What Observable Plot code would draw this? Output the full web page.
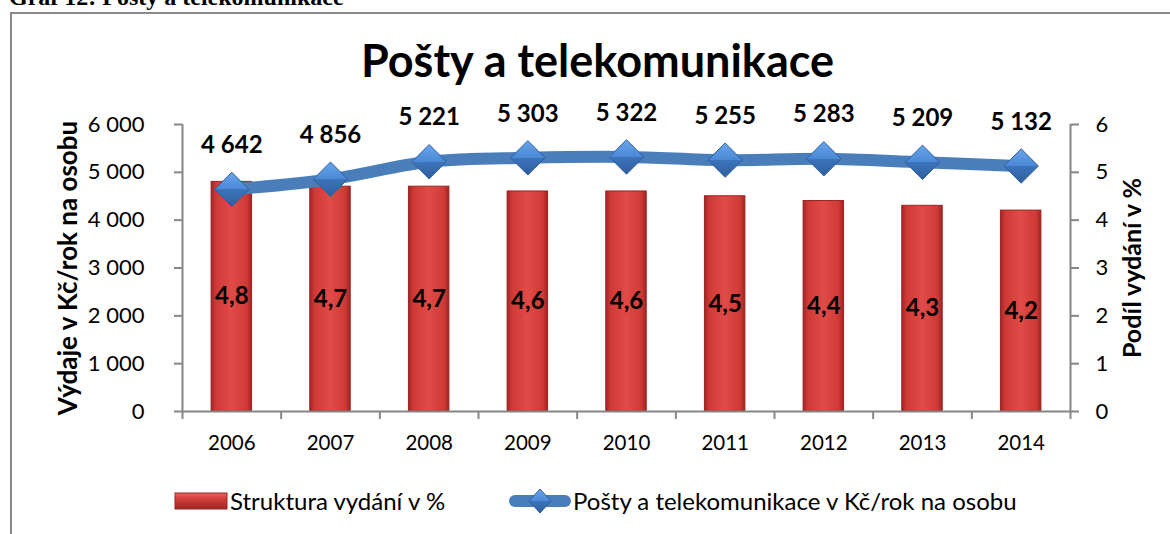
<!DOCTYPE html>
<html>
<head>
<meta charset="utf-8">
<script src="https://cdn.jsdelivr.net/npm/d3@7"></script>
<script src="https://cdn.jsdelivr.net/npm/@observablehq/plot@0.6"></script>
<style>
  html, body { margin: 0; padding: 0; background: #fff; }
  #wrap { position: relative; width: 1170px; height: 534px; overflow: hidden; font-family: Lato, "Open Sans", sans-serif; }
  #border { position: absolute; left: 10px; top: 12px; width: 1300px; height: 700px; border-left: 2px solid #8a8a8a; border-top: 2px solid #8a8a8a; }
  #caption { position: absolute; left: 9px; top: -15px; font-family: "Liberation Serif", serif; font-weight: bold; font-size: 24px; line-height: 24px; white-space: nowrap; }
  #chart { position: absolute; left: 0; top: 0; }
  .leg { position: absolute; display: flex; align-items: center; font-size: 24px; white-space: nowrap; color: #000; }
  .leg svg { display: block; }
</style>
</head>
<body>
<div id="wrap">
  <div id="border"></div>
  <div id="chart"></div>
  <div id="caption"></div>
  <div class="leg" id="leg1" style="left:174px; top:486px;"></div>
  <div class="leg" id="leg2" style="left:508px; top:486px;"></div>
</div>
<script>
// ---- data ----
const years = [2006, 2007, 2008, 2009, 2010, 2011, 2012, 2013, 2014];
const sharePct = [4.8, 4.7, 4.7, 4.6, 4.6, 4.5, 4.4, 4.3, 4.2];
const spendCzk = [4642, 4856, 5221, 5303, 5322, 5255, 5283, 5209, 5132];
const leftTicks = [0, 1000, 2000, 3000, 4000, 5000, 6000];
const leftTickLabels = ["0", "1 000", "2 000", "3 000", "4 000", "5 000", "6 000"];
const rightTicks = [0, 1, 2, 3, 4, 5, 6];
const rightTickLabels = ["0", "1", "2", "3", "4", "5", "6"];
const captionText = "Graf 12: Pošty a telekomunikace";
const titleText = "Pošty a telekomunikace";
const leftAxisTitle = "Výdaje v Kč/rok na osobu";
const rightAxisTitle = "Podíl vydání v %";
const barSeriesName = "Struktura vydání v %";
const lineSeriesName = "Pošty a telekomunikace v Kč/rok na osobu";

const data = years.map((year, i) => ({ year, share: sharePct[i], czk: spendCzk[i] }));
const locale = d3.formatLocale({ decimal: ",", thousands: " ", grouping: [3], currency: ["", " Kč"] });
const fmtInt = locale.format(",d");
const fmtPct = locale.format(".1f");
const ratio = 1000; // right-axis unit (percent) -> left-axis unit (Kč)
const boundaries = years.map(y => y - 0.5).concat([years[years.length - 1] + 0.5]);

const font = "Lato, 'Open Sans', sans-serif";

function defs() {
  const ns = "http://www.w3.org/2000/svg";
  const d = document.createElementNS(ns, "defs");
  d.innerHTML = `
    <linearGradient id="barGrad" x1="0" y1="0" x2="1" y2="0">
      <stop offset="0" stop-color="#9e2523"/>
      <stop offset="0.12" stop-color="#cf3a37"/>
      <stop offset="0.5" stop-color="#e04b47"/>
      <stop offset="0.88" stop-color="#cf3a37"/>
      <stop offset="1" stop-color="#9e2523"/>
    </linearGradient>
    <linearGradient id="diaGrad" x1="0" y1="0" x2="0" y2="1">
      <stop offset="0" stop-color="#6aa6ec"/>
      <stop offset="0.5" stop-color="#4a88d4"/>
      <stop offset="0.5" stop-color="#3c74bb"/>
      <stop offset="1" stop-color="#2f5f9e"/>
    </linearGradient>`;
  return d;
}

const chart = Plot.plot({
  width: 1170,
  height: 534,
  marginTop: 124,
  marginBottom: 123,
  marginLeft: 182,
  marginRight: 100,
  style: { fontFamily: font, fontSize: "21px", color: "#000", background: "transparent", overflow: "visible" },
  x: { type: "linear", domain: [years[0] - 0.5, years[years.length - 1] + 0.5], axis: null },
  y: { domain: [0, 6000], axis: null },
  marks: [
    defs,
    // bars (share in %), mapped to right axis units
    Plot.rectY(data, {
      x1: d => d.year - 0.205, x2: d => d.year + 0.205,
      y1: 0, y2: d => d.share * ratio,
      fill: "url(#barGrad)", stroke: "#9a2422", strokeWidth: 1
    }),
    // axes lines
    Plot.ruleY([0], { stroke: "#868686", strokeWidth: 2 }),
    Plot.ruleX([boundaries[0], boundaries[boundaries.length - 1]], { stroke: "#868686", strokeWidth: 2 }),
    Plot.axisY({ anchor: "left", ticks: leftTicks, tickSize: 8, tickPadding: 30, stroke: "#868686", strokeWidth: 2,
      tickFormat: d => leftTickLabels[leftTicks.indexOf(d)], fontSize: 22, label: null }),
    Plot.axisY({ anchor: "right", ticks: rightTicks.map(t => t * ratio), tickSize: 8, tickPadding: 17, stroke: "#868686", strokeWidth: 2,
      tickFormat: d => rightTickLabels[rightTicks.indexOf(d / ratio)], fontSize: 22, label: null }),
    Plot.axisX({ ticks: boundaries, tickSize: 8, tickFormat: () => "", stroke: "#868686", strokeWidth: 2, label: null }),
    Plot.axisX({ ticks: years, tickSize: 0, tickPadding: 24, tickFormat: d => String(d), fontSize: 20.5, label: null }),
    // line (Kč per person)
    Plot.line(data, { x: "year", y: "czk", stroke: "#4a7ebb", strokeWidth: 12, curve: "catmull-rom" }),
    Plot.dot(data, { x: "year", y: "czk", symbol: "diamond2", r: 15.5, fill: "url(#diaGrad)", stroke: "#2f5f9e", strokeWidth: 1 }),
    // data labels
    Plot.text(data, { x: "year", y: "czk", text: d => fmtInt(d.czk), dy: -44, fontWeight: "bold", fontSize: 24 }),
    Plot.text(data, { x: "year", y: d => d.share * ratio / 2, text: d => fmtPct(d.share), fontWeight: "bold", fontSize: 24 }),
    // axis titles
    Plot.text([leftAxisTitle], { frameAnchor: "left", dx: -114, rotate: -90, textAnchor: "middle", lineAnchor: "middle", fontWeight: "bold", fontSize: 26 }),
    Plot.text([rightAxisTitle], { frameAnchor: "right", dx: 62, rotate: -90, textAnchor: "middle", lineAnchor: "middle", fontWeight: "bold", fontSize: 25 }),
    // chart title
    Plot.text([titleText], { frameAnchor: "top", dx: -29, dy: -62, lineAnchor: "middle", fontWeight: "bold", fontSize: 45 })
  ]
});
document.getElementById("chart").appendChild(chart);
document.getElementById("caption").textContent = captionText;

document.getElementById("leg1").innerHTML =
  `<svg width="54" height="18" style="margin-right:2px"><defs>
     <linearGradient id="legBar" x1="0" y1="0" x2="0" y2="1">
       <stop offset="0" stop-color="#e86a66"/><stop offset="0.3" stop-color="#d9413e"/><stop offset="1" stop-color="#9e2523"/>
     </linearGradient></defs>
     <rect x="1" y="1" width="52" height="16" fill="url(#legBar)" stroke="#9a2422"/></svg><span>${barSeriesName}</span>`;
document.getElementById("leg2").innerHTML =
  `<svg width="64" height="26" style="margin-right:1px">
     <line x1="7" y1="13" x2="57" y2="13" stroke="#4a7ebb" stroke-width="12" stroke-linecap="round"/>
     <path d="M32 1 L43 13 L32 25 L21 13 Z" fill="url(#diaGrad)" stroke="#2f5f9e"/></svg><span>${lineSeriesName}</span>`;
</script>
</body>
</html>
